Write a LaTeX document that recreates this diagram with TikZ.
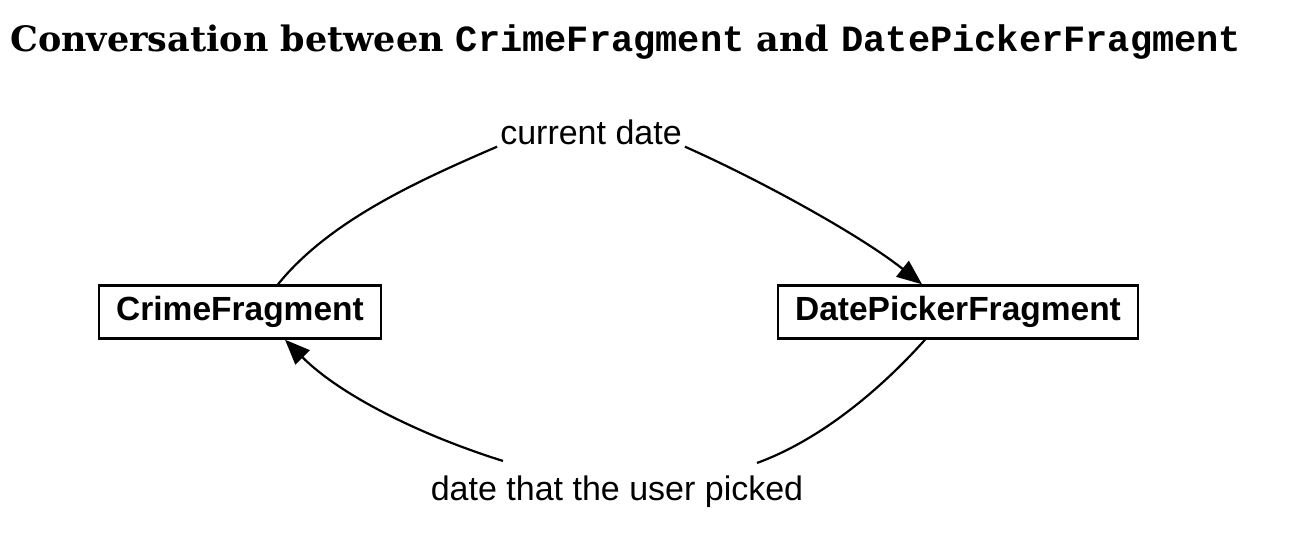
\documentclass[tikz,border=0pt]{standalone}
\usepackage{fontspec}
\usetikzlibrary{arrows.meta}
\setmainfont{Liberation Sans}
\newfontfamily\titleserif{DejaVu Serif}
\newfontfamily\titlemono{Liberation Mono}
\begin{document}
\begin{tikzpicture}[x=1pt,y=-1pt,
  fragbox/.style={draw,line width=2.4pt,minimum width=282pt,minimum height=53pt,inner sep=0pt,
    font=\fontsize{33.5}{36}\selectfont\bfseries},
  msg/.style={inner sep=1pt,font=\fontsize{34}{38}\selectfont},
  flow/.style={line width=2.2pt},
  tip/.style={-{Triangle[length=25pt,width=20pt]}}]
\useasboundingbox (0,0) rectangle (1292,540);
\node[anchor=base west,inner sep=0pt] (title) at (10,52)
  {\titleserif\bfseries\fontsize{35}{38}\selectfont Conversation between
   {\titlemono\fontsize{37}{40}\selectfont CrimeFragment} and
   {\titlemono\fontsize{37}{40}\selectfont DatePickerFragment}};
\node[fragbox] (cf) at (240,312) {CrimeFragment};
\node[fragbox,minimum width=360pt] (dp) at (958,312) {DatePickerFragment};
\node[msg] (cd) at (591,132) {current date};
\node[msg] (up) at (617,492) {date that the user picked};
\draw[flow] ([xshift=38pt]cf.north) .. controls (330,220) and (420,180) .. ([xshift=-2pt,yshift=-1pt]cd.south west);
\draw[flow,tip] ([xshift=2pt,yshift=-1pt]cd.south east) .. controls (760,180) and (860,235) .. ([xshift=-36pt]dp.north);
\draw[flow] ([xshift=-33pt]dp.south) .. controls (880,390) and (820,440) .. ([xshift=140pt,yshift=12pt]up.north);
\draw[flow,tip] ([xshift=-114pt,yshift=14pt]up.north) .. controls (420,435) and (340,395) .. ([xshift=45pt]cf.south);
\end{tikzpicture}
\end{document}
